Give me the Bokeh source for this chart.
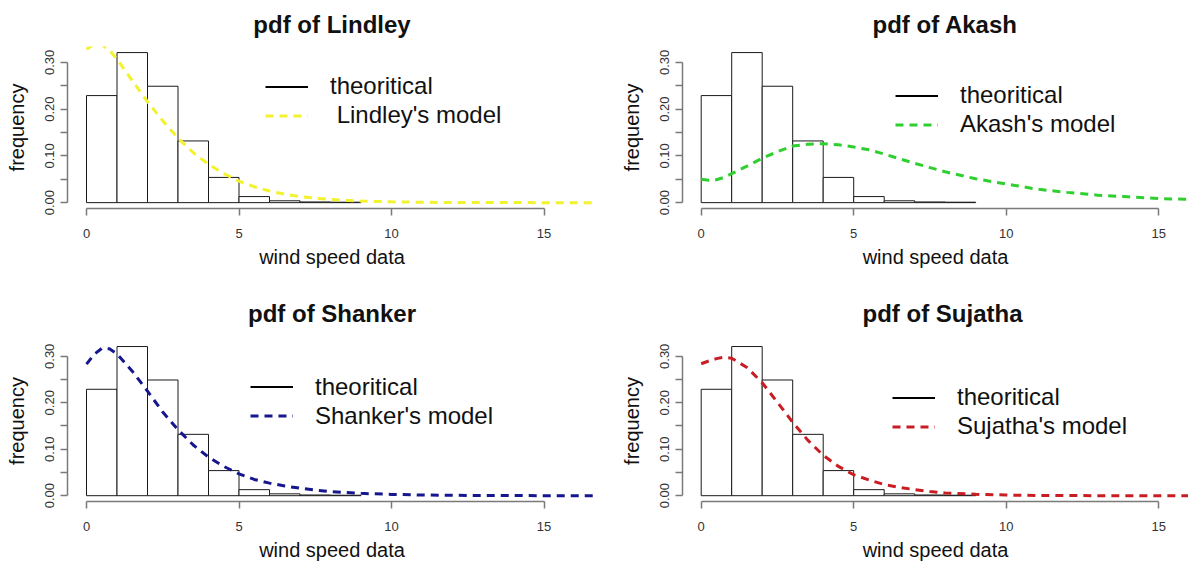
from bokeh.plotting import figure
from bokeh.layouts import gridplot
from bokeh.models import FixedTicker, NumeralTickFormatter, Legend, LegendItem, Range1d
from bokeh.embed import file_html
from bokeh.resources import INLINE

# ---------------- data ----------------
bin_left = [0, 1, 2, 3, 4, 5, 6, 7, 8]
bin_right = [1, 2, 3, 4, 5, 6, 7, 8, 9]
bin_density = [0.229, 0.321, 0.249, 0.132, 0.054, 0.013, 0.004, 0.0015, 0.001]

curve_x = [0, 0.25, 0.5, 0.75, 1, 1.5, 2, 2.5, 3, 3.5, 4, 4.5, 5, 5.5, 6, 6.5,
           7, 7.5, 8, 9, 10, 11, 12, 13, 14, 15, 16, 16.7]
lindley_y = [0.328, 0.339, 0.338, 0.326, 0.307, 0.261, 0.216, 0.175, 0.138, 0.107,
             0.082, 0.062, 0.046, 0.034, 0.025, 0.018, 0.013, 0.0095, 0.0068, 0.0034,
             0.0017, 0.0008, 0.0004, 0.0002, 0.0001, 0.00005, 0.00002, 0.00001]
akash_y = [0.050, 0.048, 0.049, 0.054, 0.062, 0.078, 0.095, 0.109, 0.121, 0.125,
           0.126, 0.124, 0.119, 0.113, 0.104, 0.094, 0.084, 0.075, 0.066, 0.051,
           0.040, 0.029, 0.022, 0.016, 0.0125, 0.009, 0.0068, 0.0055]
shanker_y = [0.283, 0.304, 0.317, 0.316, 0.305, 0.268, 0.225, 0.180, 0.142, 0.109,
             0.083, 0.063, 0.047, 0.035, 0.027, 0.021, 0.016, 0.012, 0.009, 0.005,
             0.0028, 0.0015, 0.0008, 0.0004, 0.0002, 0.0001, 0.00005, 0.00003]
sujatha_y = [0.284, 0.290, 0.295, 0.298, 0.296, 0.276, 0.243, 0.201, 0.158, 0.119,
             0.087, 0.063, 0.045, 0.034, 0.024, 0.018, 0.013, 0.009, 0.006, 0.003,
             0.0014, 0.0005, 0.0002, 0.0001, 0.00004, 0.00002, 0.00001, 0.0]

x_ticks = [0, 5, 10, 15]
y_ticks = [0.0, 0.1, 0.2, 0.3]
y_minor_ticks = [0.05, 0.15, 0.25]

titles = ["pdf of Lindley", "pdf of Akash", "pdf of Shanker", "pdf of Sujatha"]
model_labels = [" Lindley's model", "Akash's model", "Shanker's model", "Sujatha's model"]
model_values = [lindley_y, akash_y, shanker_y, sujatha_y]
model_colors = ["#f2f22e", "#2fcf2f", "#16168e", "#c91d24"]

FONT = "Liberation Sans"
AXIS_GRAY = "#7a7a7a"


def make_panel(i):
    left_col = i % 2 == 0
    top_row = i < 2
    width = 615 if left_col else 573
    height = 270 if top_row else 293
    xr = Range1d(-0.623, 16.72) if left_col else Range1d(-0.613, 15.977)
    yr = Range1d(-0.0125, 0.334)
    p = figure(width=width, height=height, x_range=xr, y_range=yr,
               output_backend="svg", toolbar_location=None,
               min_border_left=67,
               min_border_right=19 if left_col else 0,
               min_border_top=46 if top_row else 70,
               min_border_bottom=62,
               x_axis_label="wind speed data", y_axis_label="frequency")
    p.background_fill_color = "white"
    p.border_fill_color = "white"
    p.outline_line_color = None
    p.xgrid.visible = False
    p.ygrid.visible = False

    # title
    p.title.text = titles[i]
    p.title.text_font = FONT
    p.title.text_font_size = "24px"
    p.title.text_font_style = "bold"
    p.title.text_color = "#111111"
    p.title.standoff = 17 if top_row else 27
    if left_col:
        p.title.align = "center"
    else:
        p.title.align = "left"
        p.title.offset = 190 if top_row else 180

    # axes
    xa = p.xaxis[0]
    ya = p.yaxis[0]
    xa.ticker = FixedTicker(ticks=x_ticks)
    xa.bounds = (0, 15)
    ya.ticker = FixedTicker(ticks=y_ticks, minor_ticks=y_minor_ticks)
    ya.bounds = (0, 0.3)
    ya.formatter = NumeralTickFormatter(format="0.00")
    ya.major_label_orientation = "vertical"
    for ax in (xa, ya):
        ax.axis_line_color = AXIS_GRAY
        ax.axis_line_width = 1.5
        ax.major_tick_line_color = AXIS_GRAY
        ax.major_tick_line_width = 1.5
        ax.major_tick_out = 7
        ax.major_tick_in = 0
        ax.major_label_text_font = FONT
        ax.major_label_text_font_size = "13px"
        ax.major_label_text_color = "#333333"
        ax.axis_label_text_font = FONT
        ax.axis_label_text_font_size = "20px"
        ax.axis_label_text_font_style = "normal"
        ax.axis_label_text_color = "#111111"
    xa.minor_tick_line_color = None
    ya.minor_tick_line_color = AXIS_GRAY
    ya.minor_tick_line_width = 1.5
    ya.minor_tick_out = 7
    ya.minor_tick_in = 0
    xa.major_label_standoff = 13
    xa.axis_label_standoff = 5
    ya.major_label_standoff = 6
    ya.axis_label_standoff = 15

    # histogram
    p.quad(left=bin_left, right=bin_right, top=bin_density, bottom=0,
           fill_color="white", line_color="#1a1a1a", line_width=1)

    # model curve
    curve = p.line(curve_x, model_values[i], line_color=model_colors[i],
                   line_width=3, line_dash="8 6")
    # legend sample for the histogram ("theoritical"): hidden renderer, shown only in legend
    theo = p.line(x=bin_left, y=bin_density, line_color="black", line_width=2, visible=False)

    loc = [(198, 78.5), (213, 69.5), (183, 70.8), (210, 60.5)][i]
    legend = Legend(items=[LegendItem(label="theoritical", renderers=[theo]),
                           LegendItem(label=model_labels[i], renderers=[curve])],
                    location=loc, padding=0, margin=0, spacing=0,
                    glyph_width=43, glyph_height=29, label_height=29,
                    label_standoff=22, label_text_font=FONT,
                    label_text_font_size="24px", label_text_color="#111111",
                    border_line_color=None, background_fill_alpha=0,
                    inactive_fill_alpha=0)
    p.add_layout(legend)
    return p


panels = [make_panel(i) for i in range(4)]
grid = gridplot([[panels[0], panels[1]], [panels[2], panels[3]]], toolbar_location=None)

open("out.html", "w").write(file_html(grid, INLINE))
